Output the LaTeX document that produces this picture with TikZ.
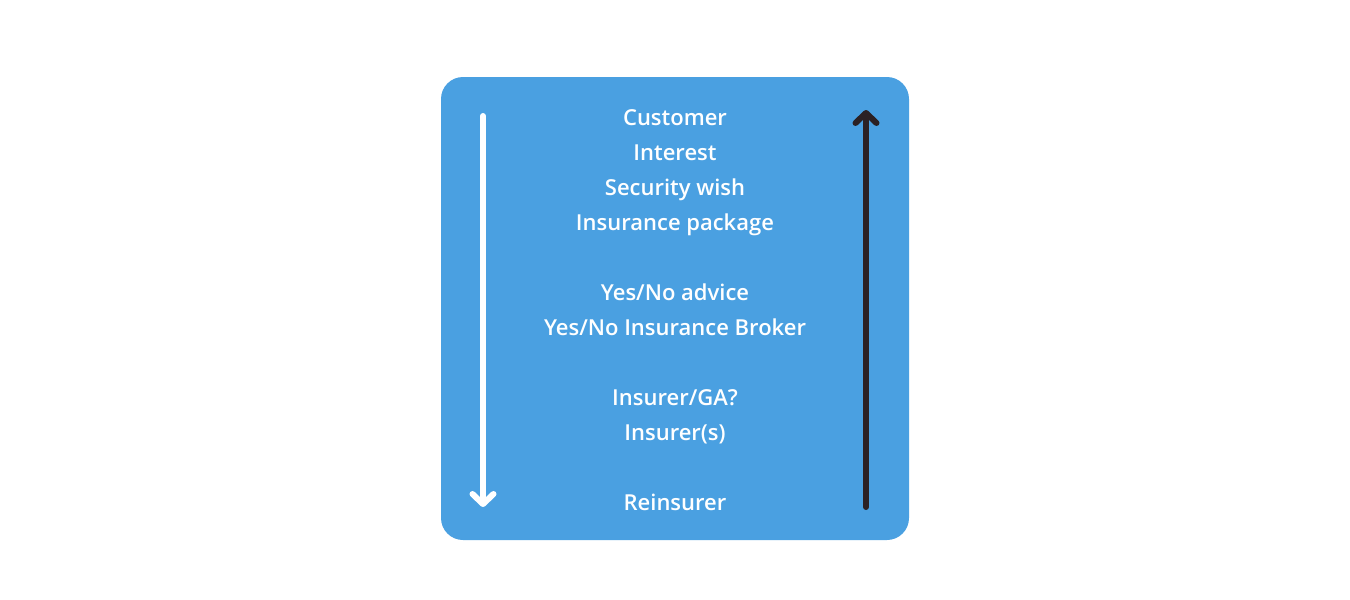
\documentclass[tikz,border=0pt]{standalone}
\usepackage{fontspec}
\setmainfont{Open Sans}[BoldFont={* Semibold}]
\usetikzlibrary{arrows.meta,positioning}
\definecolor{panelblue}{RGB}{74,160,225}
\definecolor{darkarrow}{RGB}{43,33,36}
\tikzset{
  step line/.style={line width=6pt,line cap=round,
    -{Straight Barb[length=10pt,width=21pt,line cap=round,line join=round]}},
  stage/.style={text=white,font=\fontsize{22}{24}\selectfont\bfseries,inner sep=0pt,anchor=base}
}

\begin{document}
\begin{tikzpicture}[x=1pt,y=-1pt]
		\useasboundingbox (0,0) rectangle (1350,600);

		\fill[panelblue,rounded corners=22pt] (441,77) rectangle (909,540);

		\node[stage] (customer) at (675,125) {Customer};
		\node[stage] (interest) at (675,160) {Interest};
		\node[stage] (wish) at (675,195) {Security wish};
		\node[stage] (package) at (675,230) {Insurance package};

		\node[stage] (advice) at (675,300) {Yes/No advice};
		\node[stage] (broker) at (675,335) {Yes/No Insurance Broker};

		\node[stage] (ga) at (675,405) {Insurer/GA?};
		\node[stage] (insurers) at (675,440) {Insurer(s)};

		\node[stage] (reinsurer) at (675,510) {Reinsurer};

		\coordinate (downtop) at (483,116);
		\coordinate (downend) at (483,507);
		\coordinate (upbottom) at (866,507);
		\coordinate (uptop) at (866,110);

		\draw[step line,white] (downtop) -- (downend);
		\draw[step line,darkarrow] (upbottom) -- (uptop);
	\end{tikzpicture}
\end{document}
